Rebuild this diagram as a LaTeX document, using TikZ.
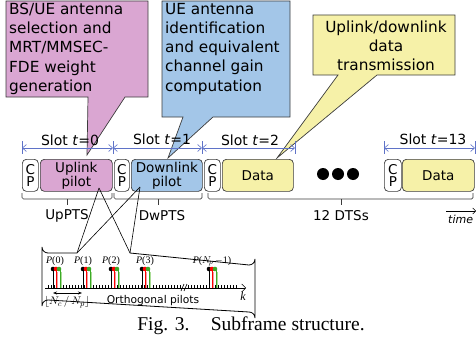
\documentclass[tikz,border=0pt]{standalone}
\usepackage{fontspec}
\setmainfont{Liberation Serif}
\setsansfont{DejaVu Sans}
\usetikzlibrary{arrows.meta}
\definecolor{pinkf}{RGB}{218,166,210}
\definecolor{bluef}{RGB}{163,198,232}
\definecolor{yellf}{RGB}{246,241,168}
\definecolor{slotc}{RGB}{95,115,200}
\definecolor{edgec}{RGB}{60,60,60}
\definecolor{palered}{RGB}{240,160,160}
\definecolor{palegreen}{RGB}{170,220,150}
\definecolor{greenc}{RGB}{60,170,40}
\tikzset{
  callout/.style={draw=edgec,line width=0.7pt},
  ctext/.style={font=\sffamily\fontsize{15.3}{19.2}\selectfont,inner sep=0pt},
  blk/.style={draw=edgec,line width=0.7pt,rounded corners=4pt,minimum height=32pt,inner sep=0pt,anchor=north west,font=\sffamily\fontsize{13.5}{15}\selectfont,align=center},
  slotarr/.style={slotc,line width=0.6pt,{Straight Barb[length=4pt,width=7pt]}-{Straight Barb[length=4pt,width=7pt]}},
  slottick/.style={slotc,line width=0.6pt},
  slotlbl/.style={font=\sffamily\fontsize{14}{16}\selectfont,inner sep=0pt},
  brace/.style={draw=edgec,line width=0.7pt,rounded corners=1.5pt},
  blbl/.style={font=\sffamily\fontsize{13.5}{15}\selectfont,inner sep=0pt},
  link/.style={draw=black,line width=0.6pt},
  plbl/.style={font=\fontsize{10}{11}\selectfont,inner sep=0pt}
}
\begin{document}
\begin{tikzpicture}[x=1pt,y=-1pt]
\useasboundingbox (0,0) rectangle (476,345);
% callouts
\draw[callout,fill=pinkf] (6,1) -- (148,1) -- (148,97) -- (125,97) -- (87,155) -- (88,97) -- (6,97) -- cycle;
\node[ctext,anchor=north west,align=left] (ptext) at (9,3) {BS/UE antenna\\selection and\\MRT/MMSEC-\\FDE weight\\generation};
\draw[callout,fill=bluef] (162,1) -- (290,1) -- (290,117) -- (213,117) -- (168,158) -- (183,117) -- (162,117) -- cycle;
\node[ctext,anchor=north west,align=left] (btext) at (165,3) {UE antenna\\identification\\and equivalent\\channel gain\\computation};
\draw[callout,fill=yellf] (313,15) -- (455,15) -- (455,75) -- (377,75) -- (277,158) -- (338,75) -- (313,75) -- cycle;
\node[ctext,align=center] (ytext) at (386,46) {Uplink/downlink\\data\\transmission};
% slot arrows
\foreach \a/\b in {22/113,113/202,202/295,384/475}{
  \draw[slottick] (\a,141) -- (\a,154);
  \draw[slottick] (\b,141) -- (\b,154);
  \draw[slotarr] (\a,148) -- (\b,148);
}
\node[slotlbl] (s0) at (70,140) {Slot \textit{t}=0};
\node[slotlbl] (s1) at (162,139) {Slot \textit{t}=1};
\node[slotlbl] (s2) at (250,140) {Slot \textit{t}=2};
\node[slotlbl] (s13) at (433,139) {Slot \textit{t}=13};
% blocks
\node[blk,fill=white,minimum width=16pt] (cp1) at (22,159) {C\\[-3pt]P};
\node[blk,fill=pinkf,minimum width=72pt] (up) at (40,159) {Uplink\\[-1pt]pilot};
\node[blk,fill=white,minimum width=15pt] (cp2) at (114,159) {C\\[-3pt]P};
\node[blk,fill=bluef,minimum width=71pt] (dw) at (131,159) {Downlink\\[-1pt]pilot};
\node[blk,fill=white,minimum width=16pt] (cp3) at (204,159) {C\\[-3pt]P};
\node[blk,fill=yellf,minimum width=71pt] (d1) at (222,159) {Data};
\node[blk,fill=white,minimum width=17pt] (cp4) at (384,159) {C\\[-3pt]P};
\node[blk,fill=yellf,minimum width=72pt] (d2) at (402,159) {Data};
\foreach \x in {323,338,353}{\fill[black] (\x,174) circle (6pt);}
% braces
\draw[brace] (22,193) -- (22,199) -- (112,199) -- (112,193);
\draw[edgec,line width=0.7pt] (67,199) -- (67,205);
\draw[brace] (114,193) -- (114,199) -- (202,199) -- (202,193);
\draw[edgec,line width=0.7pt] (158,199) -- (158,205);
\draw[brace] (208,193) -- (208,199) -- (473,199) -- (473,193);
\draw[edgec,line width=0.7pt] (341,199) -- (341,205);
\node[blbl] (uppts) at (67,216) {UpPTS};
\node[blbl] (dwpts) at (162,216) {DwPTS};
\node[blbl] (dts) at (341,216) {12 DTSs};
\node[font=\sffamily\itshape\fontsize{11}{13}\selectfont,inner sep=0pt,anchor=west] (time) at (448,219) {time};
\draw[line width=0.5pt,-{Straight Barb[length=3pt,width=6pt]}] (446,211) -- (476,211);
% bottom box
\coordinate (nl) at (77,253);
\coordinate (nr) at (130,253);
\coordinate (uppt) at (99,188);
\coordinate (dwpt) at (140,187);
\draw[line width=0.8pt,fill=white] (nl) -- (48,253) arc[start angle=90,end angle=180,radius=6] -- (42,306) arc[start angle=180,end angle=270,radius=6] -- (249,312) arc[start angle=270,end angle=360,radius=6] -- (255,259) arc[start angle=0,end angle=90,radius=6] -- (nr);
\draw[link] (uppt) -- (nl);
\draw[link] (uppt) -- (nr);
\draw[link] (dwpt) -- (nl);
\draw[link] (dwpt) -- (nr);
% axis
\draw[line width=0.5pt,-{Straight Barb[length=4pt,width=8pt]}] (45,288) -- (246,288);
\foreach \x in {48,51,...,180}{\draw[line width=0.4pt] (\x,285) -- (\x,289);}
\foreach \x in {188,191,...,236}{\draw[line width=0.4pt] (\x,285) -- (\x,289);}
\draw[line width=0.6pt] (181,291) -- (184,284);
\draw[line width=0.6pt] (184,291) -- (187,284);
\node[font=\itshape\fontsize{12}{14}\selectfont,inner sep=0pt] (k) at (243,296) {k};
\foreach \x in {53,83,111,142,209}{
  \draw[line width=0.6pt,black] (\x,288) -- (\x,269);
  \draw[line width=0.6pt,red] (\x+3,288) -- (\x+3,269);
  \draw[line width=1pt,palered] (\x+4.5,288) -- (\x+4.5,272);
  \draw[line width=0.6pt,greenc] (\x+7,288) -- (\x+7,269);
  \draw[line width=1pt,palegreen] (\x+8.5,288) -- (\x+8.5,272);
  \fill[black] (\x,269) circle (2.3pt);
  \fill[red] (\x+3,269) circle (2.3pt);
  \fill[greenc] (\x+6,269) circle (2.3pt);
}
\node[plbl] (p0) at (55,261) {\textit{P}(0)};
\node[plbl] (p1) at (83,261) {\textit{P}(1)};
\node[plbl] (p2) at (111,261) {\textit{P}(2)};
\node[plbl] (p3) at (145,261) {\textit{P}(3)};
\node[plbl] (pn) at (212,261) {\textit{P}($N_{\!p}$\,$-$1)};
\draw[line width=0.6pt,{Stealth[length=4pt]}-{Stealth[length=4pt]}] (53,293) -- (82,293);
\node[font=\fontsize{11}{12}\selectfont,inner sep=0pt] (frac) at (67,302) {$\lfloor N_c\,/\,N_p\rfloor$};
\node[font=\sffamily\fontsize{10.7}{13}\selectfont,inner sep=0pt] (orth) at (153,301) {Orthogonal pilots};
% caption
\node[font=\fontsize{19.5}{21}\selectfont,inner sep=0pt] (cap) at (251,326) {Fig. 3.\hspace{1.1em}Subframe structure.};
\end{tikzpicture}
\end{document}
